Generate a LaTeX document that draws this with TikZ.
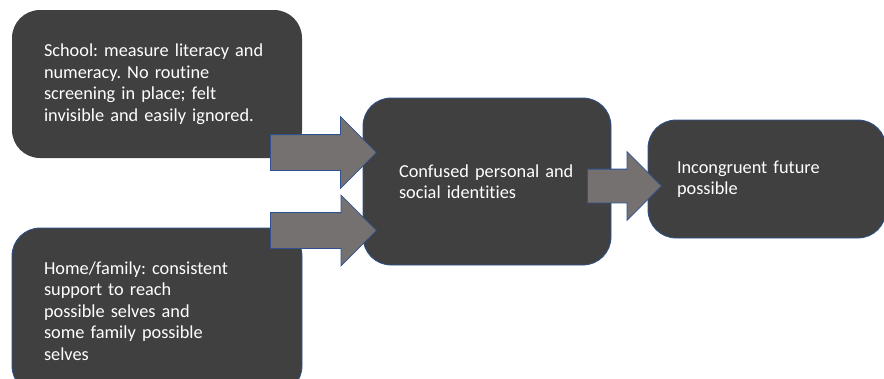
\documentclass[tikz,border=0pt]{standalone}
\usepackage{fontspec}
\setmainfont{Carlito}[Ligatures=NoCommon]
\usetikzlibrary{shapes.arrows}
\definecolor{boxgray}{HTML}{404040}
\definecolor{arrgray}{HTML}{767171}
\definecolor{edgeblue}{HTML}{2F528F}
\frenchspacing

\begin{document}
\begin{tikzpicture}[x=1pt, y=-1pt,
  box/.style={rounded corners=28pt, fill=boxgray, draw=edgeblue, line width=0.8pt,
    text=white, align=left, inner sep=0pt, font=\fontsize{18.3}{21.5}\selectfont},
  barrow/.style={single arrow, fill=arrgray, draw=edgeblue, line width=0.8pt, anchor=tail,
    inner xsep=0pt, inner ysep=17.5pt, single arrow head extend=18pt}]
\useasboundingbox (0,0) rectangle (884,378);
\clip (0,0) rectangle (884,378);

% boxes
\node[box, draw=none, minimum width=290pt, minimum height=148pt, text width=226pt] (school) at (157,84)
  {School: measure literacy and\\ numeracy. No routine\\ screening in place; felt\\ invisible and easily ignored.};
\node[box, minimum width=290pt, minimum height=166pt, text width=226pt] (home) at (157,311)
  {Home/family: consistent\\ support to reach\\ possible selves and\\ some family possible\\ selves};
\node[box, minimum width=248pt, minimum height=167pt, text width=176pt] (ident) at (487,181.5)
  {Confused personal and\\ social identities};
\node[box, minimum width=238pt, minimum height=118pt, text width=180pt] (future) at (767,179)
  {Incongruent future\\ possible};

% block arrows
\node[barrow, minimum height=106pt] (arrA) at (270,152.5) {};
\node[barrow, minimum height=106pt, single arrow head extend=17.5pt] (arrB) at (270,230.5) {};
\node[barrow, minimum height=74pt, inner ysep=16.5pt, single arrow head extend=17.5pt] (arrC) at (587,186) {};
\end{tikzpicture}
\end{document}
